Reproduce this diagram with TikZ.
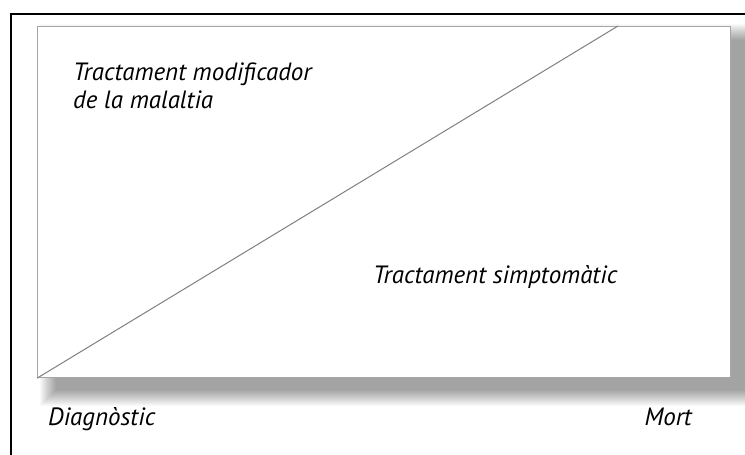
\documentclass[tikz,border=0pt]{standalone}
\usepackage{fontspec}
\setmainfont{PT Sans}
\tikzset{
  lbl/.style={anchor=base west, inner sep=0pt, font=\itshape\fontsize{25}{29}\selectfont, text=black},
  panel/.style={draw=black!35, line width=1.2pt, fill=white},
  shadowlayer/.style={fill=black, fill opacity=0.024},
  diag/.style={draw=black!50, line width=1pt}
}
\begin{document}
\begin{tikzpicture}[x=1pt,y=-1pt]
\useasboundingbox (0,0) rectangle (745,455);
\fill[white] (0,0) rectangle (745,455);
\foreach \r in {0,1,...,16}{
  \fill[shadowlayer] (56-\r,40-\r) rectangle (760+\r,390+\r);
}
\draw[line width=1.5pt] (11,455) coordinate (fl) -- (11,14) coordinate (fc) -- (745,14) coordinate (fr);
\node[panel, minimum width=693pt, minimum height=351pt, anchor=north west, inner sep=0pt] (box) at (37,26) {};
\coordinate (top) at (618,26);
\draw[diag] (box.south west) -- (top);
\node[lbl] (t1) at (73,80) {Tractament modificador};
\node[lbl] (t2) at (73,108) {de la malaltia};
\node[lbl] (t3) at (373,283) {Tractament simptomàtic};
\node[lbl] (t4) at (48,425) {Diagnòstic};
\node[lbl, anchor=base east] (t5) at (692,425) {Mort};
\end{tikzpicture}
\end{document}
